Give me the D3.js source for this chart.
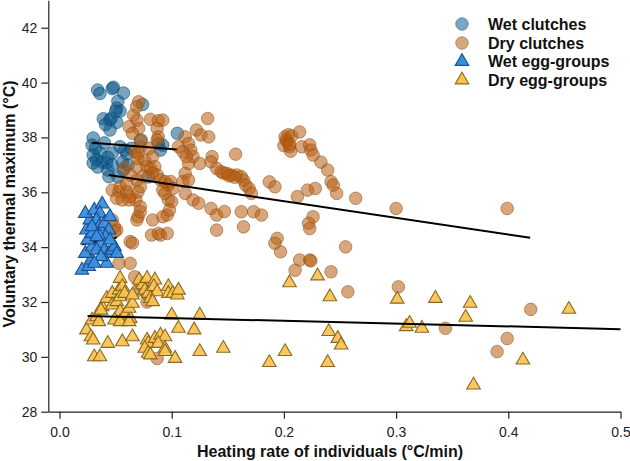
<!DOCTYPE html>
<html>
<head>
<meta charset="utf-8">
<script src="https://cdn.jsdelivr.net/npm/d3@7"></script>
<style>
  html, body { margin: 0; padding: 0; background: #fff; }
  svg { display: block; }
  text { font-family: "Liberation Sans", Arial, sans-serif; }
</style>
</head>
<body>
<svg id="chart" width="630" height="461"></svg>
<script>
// ---------------- DATA ----------------
const xTicks = [0, 0.1, 0.2, 0.3, 0.4, 0.5];
const yTicks = [28, 30, 32, 34, 36, 38, 40, 42];
const seriesNames = ["Wet clutches", "Dry clutches", "Wet egg-groups", "Dry egg-groups"];

const wetClutches = [
  [0.034,39.73],[0.036,39.6],[0.048,39.83],[0.047,39.78],[0.057,39.62],[0.052,39.32],[0.051,39.07],
  [0.054,38.96],[0.039,38.68],[0.045,38.64],[0.041,38.47],[0.051,38.55],[0.074,39.2],[0.105,38.15],
  [0.045,38.27],[0.030,37.98],[0.029,37.72],[0.032,37.61],[0.036,37.43],[0.030,37.36],[0.033,37.18],
  [0.038,37.1],[0.043,37.28],[0.047,37.43],[0.042,37.07],[0.030,37.07],[0.034,36.92],[0.047,37.0],
  [0.057,36.81],[0.043,36.81],[0.058,37.54],[0.092,37.72],[0.056,37.1],[0.079,36.56],[0.052,36.56],
  [0.088,37.78],[0.090,37.54],[0.072,37.9],[0.060,37.4],[0.054,37.66],[0.061,36.99],[0.044,36.57],
  [0.040,37.8],[0.064,37.6],[0.046,38.7],[0.050,38.95]
];

const dryClutches = [
  [0.0705,39.3],[0.0687,39.12],[0.066,38.81],[0.069,38.63],[0.0705,38.33],[0.062,38.39],[0.065,38.15],
  [0.081,38.66],[0.088,38.61],[0.092,38.63],[0.087,38.33],[0.088,38.02],[0.087,37.9],[0.132,38.69],
  [0.122,38.27],[0.126,38.09],[0.133,38.02],[0.112,38.02],[0.115,37.78],[0.117,37.54],[0.119,37.3],
  [0.106,37.66],[0.110,37.48],[0.113,37.3],[0.136,37.3],[0.135,37.11],[0.125,37.05],[0.115,37.05],
  [0.112,36.69],[0.110,36.39],[0.115,36.45],[0.112,35.96],[0.119,35.72],[0.124,35.6],[0.135,35.41],
  [0.140,35.17],[0.147,35.3],[0.140,34.62],[0.157,37.39],[0.140,36.87],[0.144,36.75],[0.149,36.69],
  [0.153,36.63],[0.158,36.63],[0.162,36.57],[0.164,36.44],[0.166,36.26],[0.169,36.14],[0.171,35.96],
  [0.146,36.7],[0.151,36.6],[0.156,36.55],
  [0.162,35.29],[0.173,35.29],[0.180,35.17],[0.164,34.74],[0.187,36.38],[0.192,36.2],
  [0.201,38.02],[0.203,37.85],[0.205,37.66],[0.204,38.1],[0.202,37.9],[0.200,37.7],[0.206,37.5],
  [0.207,38.05],[0.205,37.75],
  [0.214,38.2],[0.216,37.66],[0.223,37.73],[0.224,37.54],[0.226,37.36],[0.233,37.1],[0.239,36.81],
  [0.242,36.39],[0.244,36.26],[0.247,35.96],[0.212,35.84],[0.221,36.08],[0.228,36.14],[0.226,35.11],
  [0.222,34.87],[0.223,34.68],[0.214,33.53],[0.210,33.16],[0.223,33.53],[0.224,33.5],[0.194,34.32],
  [0.192,34.14],[0.197,33.83],[0.255,34.01],[0.264,35.78],[0.242,33.1],[0.257,32.37],[0.300,35.41],
  [0.302,32.55],[0.399,35.41],[0.344,31.04],[0.399,30.67],[0.390,30.19],[0.420,31.73],
  [0.047,36.08],[0.053,36.02],[0.054,36.2],[0.060,36.02],[0.063,35.84],[0.068,35.72],[0.051,35.78],
  [0.056,35.72],[0.062,35.72],[0.070,36.02],[0.072,36.2],[0.069,36.45],[0.063,36.63],[0.069,36.93],
  [0.070,37.23],[0.067,37.48],[0.072,37.66],[0.073,37.9],[0.070,37.42],[0.076,37.17],[0.078,36.93],
  [0.081,36.87],[0.083,37.3],[0.085,36.93],[0.083,36.69],[0.087,36.63],[0.090,36.45],[0.094,36.39],
  [0.097,36.26],[0.099,36.39],[0.092,36.08],[0.101,36.14],[0.097,35.72],[0.094,35.96],[0.072,35.47],
  [0.070,35.11],[0.069,34.99],[0.072,35.29],[0.063,34.2],[0.065,34.15],[0.083,34.99],[0.092,35.11],
  [0.096,35.17],[0.082,34.44],[0.090,34.44],[0.096,34.5],[0.088,34.5],[0.100,35.66],[0.098,35.35],
  [0.063,33.41],[0.067,32.92],[0.070,32.43],[0.053,33.41],[0.047,34.99],[0.049,34.74],[0.051,34.62],
  [0.049,34.56],[0.087,29.94],[0.072,32.68],[0.076,32.43],[0.079,32.25],[0.078,32.0],[0.060,36.3],
  [0.075,36.6],[0.080,37.6],[0.058,36.9]
];

const wetEggGroups = [
  [0.020,33.16],[0.026,33.29],[0.028,33.53],[0.023,33.77],[0.029,34.01],[0.025,34.26],[0.024,34.62],
  [0.027,34.99],[0.023,35.23],[0.031,35.35],[0.038,35.57],[0.036,35.23],[0.033,34.99],[0.035,34.74],
  [0.040,34.87],[0.044,34.62],[0.041,34.38],[0.037,34.14],[0.033,33.89],[0.040,33.89],[0.044,33.77],
  [0.047,33.89],[0.042,33.41],[0.049,34.01],[0.045,34.26],[0.029,34.5],[0.035,34.44],[0.029,34.74],
  [0.045,35.11],[0.033,34.38],[0.037,33.65],[0.051,33.77],[0.031,33.41]
];

const dryEggGroups = [
  [0.024,30.98],[0.028,30.73],[0.030,30.61],[0.031,30.0],[0.036,30.0],[0.043,30.49],[0.056,30.55],
  [0.029,31.34],[0.033,31.46],[0.035,31.28],[0.038,31.83],[0.037,31.7],[0.042,32.13],[0.047,32.31],
  [0.053,32.43],[0.054,32.86],[0.056,32.56],[0.047,31.89],[0.051,32.01],[0.054,32.19],[0.058,32.31],
  [0.054,31.65],[0.058,31.52],[0.063,31.40],[0.062,31.77],[0.065,31.95],[0.065,32.25],[0.049,31.34],
  [0.054,31.28],[0.071,32.8],[0.074,32.62],[0.076,32.43],[0.079,32.31],[0.081,32.13],[0.078,32.86],
  [0.085,32.8],[0.084,32.56],[0.087,32.37],[0.083,32.01],[0.097,32.56],[0.097,32.31],[0.101,32.31],
  [0.105,32.25],[0.106,32.43],[0.100,31.52],[0.106,31.04],[0.120,30.98],[0.125,31.52],[0.078,30.61],
  [0.079,30.49],[0.085,30.67],[0.090,30.79],[0.094,30.73],[0.088,30.49],[0.094,30.31],[0.076,30.31],
  [0.079,30.13],[0.081,30.07],[0.094,30.19],[0.103,29.94],[0.125,30.19],[0.146,30.31],[0.187,29.79],
  [0.201,30.19],[0.205,32.7],[0.230,32.95],[0.241,32.19],[0.240,30.92],[0.248,30.67],[0.251,30.43],
  [0.239,29.79],[0.301,32.1],[0.309,31.1],[0.312,31.22],[0.323,31.04],[0.335,32.13],[0.366,31.95],
  [0.362,31.44],[0.369,28.97],[0.413,29.88],[0.454,31.73],[0.065,30.73],[0.062,31.28]
];

// fitted regression segments: [x0, x1], [y0, y1]
const fitWetClutchX = [0.029, 0.1045], fitWetClutchY = [37.81, 37.56];
const fitDryClutchX = [0.0437, 0.4195], fitDryClutchY = [36.63, 34.34];
const fitWetEggX = [0.020, 0.051], fitWetEggY = [34.1, 34.35];
const fitDryEggX = [0.025, 0.500], fitDryEggY = [31.49, 31.01];

// ---------------- CHART ----------------
const svg = d3.select("#chart");
const x = d3.scaleLinear().domain([-0.01, 0.5]).range([48.3, 620.5]);
const y = d3.scaleLinear().domain([28, 43]).range([411.7, 0.3]);

const styles = {
  wetC:  { fill: "#0b5a8a", fillOp: 0.55, stroke: "#0b4a72", strokeOp: 0.55 },
  dryC:  { fill: "#b85c10", fillOp: 0.55, stroke: "#8a4a12", strokeOp: 0.5 },
  wetE:  { fill: "#3a8ee0", fillOp: 0.95, stroke: "#1a4f8f", strokeOp: 1 },
  dryE:  { fill: "#fbc14f", fillOp: 0.92, stroke: "#8a6a22", strokeOp: 1 }
};
const tri = d3.symbol().type(d3.symbolTriangle).size(80);

function drawCircles(data, st) {
  svg.append("g").selectAll("circle").data(data).join("circle")
    .attr("cx", d => x(d[0])).attr("cy", d => y(d[1])).attr("r", 6.3)
    .attr("fill", st.fill).attr("fill-opacity", st.fillOp)
    .attr("stroke", st.stroke).attr("stroke-opacity", st.strokeOp).attr("stroke-width", 1);
}
function drawTris(data, st) {
  svg.append("g").selectAll("path").data(data).join("path")
    .attr("d", tri).attr("transform", d => `translate(${x(d[0])},${y(d[1])})`)
    .attr("fill", st.fill).attr("fill-opacity", st.fillOp)
    .attr("stroke", st.stroke).attr("stroke-opacity", st.strokeOp).attr("stroke-width", 1.1);
}
function drawFit(xs, ys) {
  svg.append("line")
    .attr("x1", x(xs[0])).attr("x2", x(xs[1]))
    .attr("y1", y(ys[0])).attr("y2", y(ys[1]))
    .attr("stroke", "#000").attr("stroke-width", 2);
}

drawCircles(wetClutches, styles.wetC);
drawCircles(dryClutches, styles.dryC);
drawFit(fitWetEggX, fitWetEggY);
drawTris(wetEggGroups, styles.wetE);
drawTris(dryEggGroups, styles.dryE);
drawFit(fitWetClutchX, fitWetClutchY);
drawFit(fitDryClutchX, fitDryClutchY);
drawFit(fitDryEggX, fitDryEggY);

// axes
const yAxis = svg.append("g").attr("transform", "translate(48.3,0)")
  .call(d3.axisLeft(y).tickValues(yTicks).tickSize(7).tickSizeOuter(0).tickPadding(4).tickFormat(d3.format("d")));
const xAxis = svg.append("g").attr("transform", "translate(0,411.7)")
  .call(d3.axisBottom(x).tickValues(xTicks).tickSize(7).tickSizeOuter(0).tickPadding(8).tickFormat(d3.format(".1f")));
[yAxis, xAxis].forEach(a => {
  a.selectAll("path.domain").attr("stroke", "#222").attr("stroke-width", 1.2);
  a.selectAll(".tick line").attr("stroke", "#222").attr("stroke-width", 1.2);
  a.selectAll(".tick text").attr("fill", "#222").style("font-size", "14px")
    .style("font-family", '"Liberation Sans", Arial, sans-serif');
});

svg.append("text").attr("x", 330).attr("y", 457).attr("text-anchor", "middle")
  .style("font-size", "16px").style("font-weight", "bold").attr("fill", "#111")
  .text("Heating rate of individuals (°C/min)");
svg.append("text").attr("transform", "translate(15,204) rotate(-90)").attr("text-anchor", "middle")
  .style("font-size", "16px").style("font-weight", "bold").attr("fill", "#111")
  .text("Voluntary thermal maximum (°C)");

// legend
const legendStyles = [
  { shape: "circle", fill: "#78a6c4", stroke: "#5a88aa" },
  { shape: "circle", fill: "#d9a77d", stroke: "#b08760" },
  { shape: "tri", fill: "#3a8ee0", stroke: "#1a4f8f" },
  { shape: "tri", fill: "#fbc14f", stroke: "#8a6a22" }
];
const legendY = [24, 43, 61.5, 80];
const lg = svg.append("g");
seriesNames.forEach((name, i) => {
  const s = legendStyles[i];
  if (s.shape === "circle") {
    lg.append("circle").attr("cx", 462).attr("cy", legendY[i]).attr("r", 6.2)
      .attr("fill", s.fill).attr("stroke", s.stroke);
  } else {
    lg.append("path").attr("d", tri).attr("transform", `translate(462,${legendY[i]})`)
      .attr("fill", s.fill).attr("stroke", s.stroke).attr("stroke-width", 1.1);
  }
  lg.append("text").attr("x", 488).attr("y", legendY[i]).attr("dy", "0.35em")
    .style("font-size", "16px").style("font-weight", "bold").attr("fill", "#111").text(name);
});
</script>
</body>
</html>
